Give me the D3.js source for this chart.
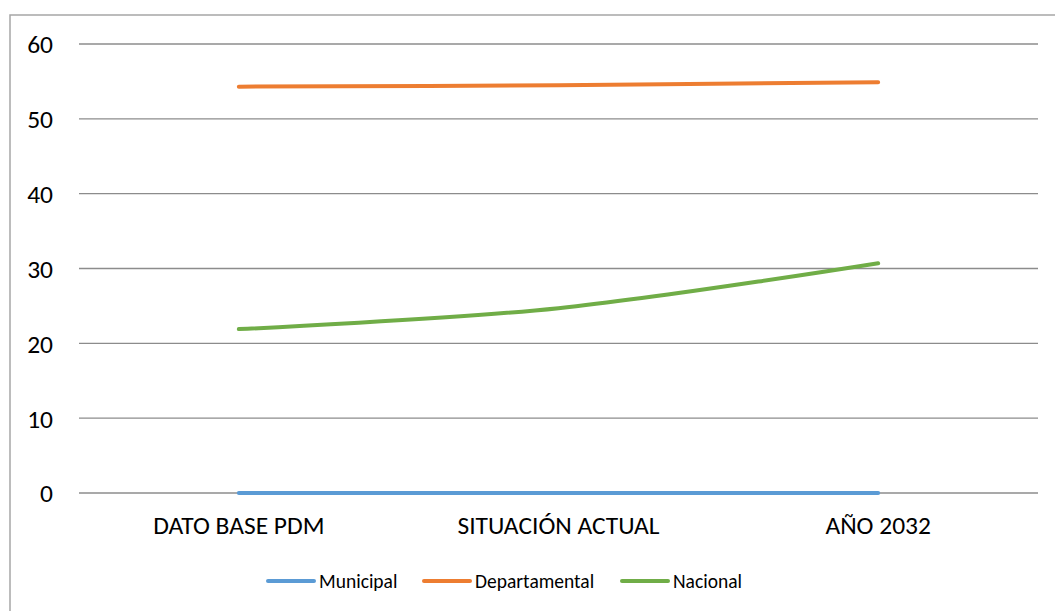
<!DOCTYPE html>
<html>
<head>
<meta charset="utf-8">
<script src="https://cdn.jsdelivr.net/npm/d3@7"></script>
<style>
  body { margin: 0; background: #fff; }
  svg text { font-family: Carlito, Calibri, "Open Sans", sans-serif; fill: #000; }
</style>
</head>
<body>
<div id="graf"></div>
<script>
// Datos
const categorias = ["DATO BASE PDM", "SITUACIÓN ACTUAL", "AÑO 2032"]
const municipal = [0, 0, 0]
const departamental = [54.3, 54.5, 54.9]
const nacional = [21.9, 24.7, 30.7]
const ticks = [0, 10, 20, 30, 40, 50, 60]

const series = [
  { nombre: "Municipal", valores: municipal, color: "#5b9bd5" },
  { nombre: "Departamental", valores: departamental, color: "#ed7d31" },
  { nombre: "Nacional", valores: nacional, color: "#70ad47" },
]

const anchoTotal = 1055
const altoTotal = 611
const margins = { top: 44, right: 17, bottom: 118, left: 79 }
const ancho = anchoTotal - margins.left - margins.right
const alto = altoTotal - margins.top - margins.bottom

const svg = d3
  .select("#graf")
  .append("svg")
  .attr("width", anchoTotal)
  .attr("height", altoTotal)

// Borde
svg
  .append("rect")
  .attr("x", 10)
  .attr("y", 15)
  .attr("width", 1060)
  .attr("height", 620)
  .attr("fill", "none")
  .attr("stroke", "#a6a6a6")
  .attr("stroke-width", 1.5)

const g = svg
  .append("g")
  .attr("transform", `translate(${margins.left}, ${margins.top})`)

// Escaladores
const y = d3.scaleLinear().domain([0, 60]).range([alto, 0])
const x = d3.scaleBand().domain(categorias).range([0, ancho])

// Rejilla
g.selectAll("line.grid")
  .data(ticks)
  .join("line")
  .attr("class", "grid")
  .attr("x1", 0)
  .attr("x2", ancho)
  .attr("y1", (d) => y(d))
  .attr("y2", (d) => y(d))
  .attr("stroke", "#8c8c8c")
  .attr("stroke-width", 1.3)

// Ejes
const yAxis = d3.axisLeft(y).tickValues(ticks).tickSize(0).tickPadding(26)
g.append("g")
  .call(yAxis)
  .call((s) => s.select(".domain").remove())
  .selectAll("text")
  .attr("font-size", 25.5)
  .attr("dy", "0.35em")

const xAxis = d3.axisBottom(x).tickSize(0).tickPadding(23)
g.append("g")
  .attr("transform", `translate(0, ${alto})`)
  .call(xAxis)
  .call((s) => s.select(".domain").remove())
  .selectAll("text")
  .attr("font-size", 25.5)

// Lineas
const linea = d3
  .line()
  .x((d, i) => x(categorias[i]) + x.bandwidth() / 2)
  .y((d) => y(d))
  .curve(d3.curveCatmullRom.alpha(0.5))

g.selectAll("path.serie")
  .data(series)
  .join("path")
  .attr("class", "serie")
  .attr("d", (d) => linea(d.valores))
  .attr("fill", "none")
  .attr("stroke", (d) => d.color)
  .attr("stroke-width", 4)
  .attr("stroke-linecap", "round")

// Leyenda
const leyX = [268, 424, 622]
const ley = svg
  .selectAll("g.ley")
  .data(series)
  .join("g")
  .attr("class", "ley")
  .attr("transform", (d, i) => `translate(${leyX[i]}, 581)`)
ley
  .append("line")
  .attr("x1", 0)
  .attr("x2", 46)
  .attr("stroke", (d) => d.color)
  .attr("stroke-width", 4)
  .attr("stroke-linecap", "round")
ley
  .append("text")
  .attr("x", 51)
  .attr("dy", "0.35em")
  .attr("font-size", 19.5)
  .text((d) => d.nombre)
</script>
</body>
</html>
